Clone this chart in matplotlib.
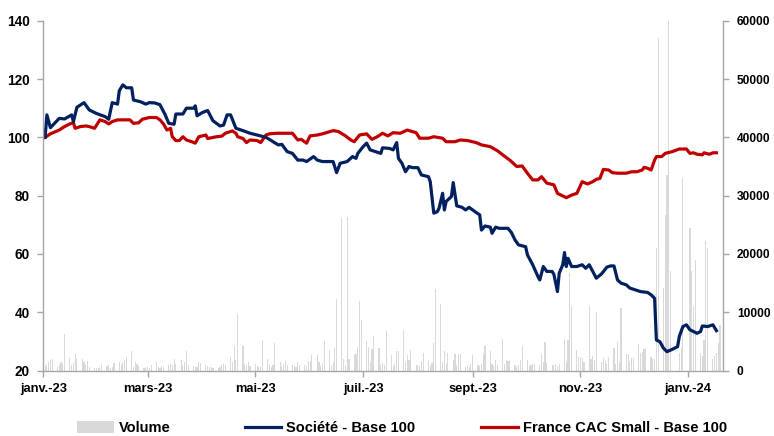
import matplotlib
matplotlib.use("Agg")
import matplotlib.pyplot as plt
import pandas as pd
from matplotlib.patches import Patch
from matplotlib.lines import Line2D

plt.rcParams['font.family'] = ['Liberation Sans', 'DejaVu Sans']
plt.rcParams['font.weight'] = 'bold'

# ---------------- data ----------------
societe_dates = [
    "2023-01-02", "2023-01-03", "2023-01-05", "2023-01-10", "2023-01-13", "2023-01-17", "2023-01-18", "2023-01-20",
    "2023-01-24", "2023-01-27", "2023-01-31", "2023-02-05", "2023-02-07", "2023-02-09", "2023-02-12", "2023-02-13",
    "2023-02-15", "2023-02-17", "2023-02-20", "2023-02-21", "2023-02-25", "2023-02-28", "2023-03-02", "2023-03-05",
    "2023-03-08", "2023-03-11", "2023-03-13", "2023-03-16", "2023-03-17", "2023-03-21", "2023-03-23", "2023-03-27",
    "2023-03-28", "2023-03-29", "2023-04-01", "2023-04-04", "2023-04-07", "2023-04-11", "2023-04-13", "2023-04-15",
    "2023-04-17", "2023-04-20", "2023-04-24", "2023-04-28", "2023-05-02", "2023-05-07", "2023-05-09", "2023-05-11",
    "2023-05-14", "2023-05-16", "2023-05-19", "2023-05-22", "2023-05-25", "2023-05-28", "2023-05-30", "2023-06-03",
    "2023-06-05", "2023-06-08", "2023-06-14", "2023-06-16", "2023-06-18", "2023-06-22", "2023-06-25", "2023-06-27",
    "2023-06-28", "2023-07-01", "2023-07-03", "2023-07-05", "2023-07-08", "2023-07-11", "2023-07-12", "2023-07-16",
    "2023-07-18", "2023-07-20", "2023-07-21", "2023-07-23", "2023-07-25", "2023-07-27", "2023-07-29", "2023-08-01",
    "2023-08-03", "2023-08-07", "2023-08-08", "2023-08-10", "2023-08-12", "2023-08-13", "2023-08-15", "2023-08-16",
    "2023-08-17", "2023-08-20", "2023-08-21", "2023-08-23", "2023-08-26", "2023-08-28", "2023-08-30", "2023-09-01",
    "2023-09-05", "2023-09-06", "2023-09-08", "2023-09-11", "2023-09-12", "2023-09-14", "2023-09-16", "2023-09-21",
    "2023-09-23", "2023-09-25", "2023-09-27", "2023-10-01", "2023-10-02", "2023-10-05", "2023-10-08", "2023-10-09",
    "2023-10-11", "2023-10-13", "2023-10-16", "2023-10-17", "2023-10-19", "2023-10-20", "2023-10-22", "2023-10-23",
    "2023-10-24", "2023-10-25", "2023-10-27", "2023-10-30", "2023-11-02", "2023-11-04", "2023-11-06", "2023-11-08",
    "2023-11-10", "2023-11-13", "2023-11-16", "2023-11-18", "2023-11-20", "2023-11-22", "2023-11-24", "2023-11-27",
    "2023-11-29", "2023-12-02", "2023-12-05", "2023-12-09", "2023-12-11", "2023-12-13", "2023-12-14", "2023-12-16",
    "2023-12-18", "2023-12-20", "2023-12-23", "2023-12-26", "2023-12-27", "2023-12-29", "2023-12-31", "2024-01-02",
    "2024-01-04", "2024-01-06", "2024-01-08", "2024-01-09", "2024-01-12", "2024-01-15", "2024-01-17",
]
societe_values = [
    100, 107.7, 103.3, 106.5, 106.3, 107.7, 105.4, 110.3,
    111.9, 109.4, 108.2, 107.1, 106.2, 111.9, 111.4, 116,
    118, 117, 117, 112.8, 112.2, 111.4, 111.9, 111.8,
    111.2, 107.7, 104.8, 104.5, 108, 108, 110, 110,
    110.8, 107.4, 108.5, 109.2, 105.7, 103.9, 104.2, 107.7,
    107.7, 103.1, 102.3, 101.4, 100.8, 100, 99.3, 98.5,
    97.4, 97.6, 95.1, 94.5, 92.2, 92.2, 91.7, 93.4,
    92.2, 91.7, 91.7, 87.9, 91.1, 91.7, 93.4, 92.8,
    94.5, 96.8, 98, 95.7, 95.1, 94.5, 96.4, 96.2,
    95.7, 98.2, 92.8, 91.1, 88.2, 90, 89.6, 89.6,
    87.1, 86.5, 84.8, 74, 74.5, 75.7, 80.8, 75.1,
    78, 79.7, 84.5, 76.5, 76, 75.1, 76, 75.1,
    73.4, 68.2, 69.6, 69.2, 67.1, 69.2, 68.8, 68.8,
    67.3, 64.8, 63.1, 62.5, 59.7, 56.3, 52.2, 51.1,
    55.7, 54, 54, 53, 47.1, 53.4, 56.3, 60.5,
    55.7, 58.5, 55.7, 55.7, 56.3, 55.1, 56.3, 54,
    51.7, 53.2, 55.5, 55.9, 55.9, 51.1, 50, 49.4,
    48.3, 47.7, 47.1, 46.8, 46, 44.8, 30.5, 29.9,
    27.7, 26.5, 27.3, 28.2, 31.7, 35.1, 35.7, 34,
    33.4, 32.8, 33.4, 35.3, 35.1, 35.7, 33.7,
]

cac_dates = [
    "2023-01-02", "2023-01-05", "2023-01-08", "2023-01-10", "2023-01-13", "2023-01-16", "2023-01-18", "2023-01-19",
    "2023-01-22", "2023-01-25", "2023-01-27", "2023-01-30", "2023-02-02", "2023-02-05", "2023-02-07", "2023-02-09",
    "2023-02-12", "2023-02-19", "2023-02-21", "2023-02-24", "2023-02-26", "2023-03-02", "2023-03-06", "2023-03-08",
    "2023-03-10", "2023-03-12", "2023-03-14", "2023-03-15", "2023-03-17", "2023-03-19", "2023-03-21", "2023-03-23",
    "2023-03-26", "2023-03-28", "2023-03-30", "2023-04-03", "2023-04-04", "2023-04-09", "2023-04-12", "2023-04-14",
    "2023-04-18", "2023-04-20", "2023-04-21", "2023-04-24", "2023-04-26", "2023-04-28", "2023-05-02", "2023-05-04",
    "2023-05-07", "2023-05-09", "2023-05-13", "2023-05-22", "2023-05-25", "2023-05-27", "2023-05-30", "2023-06-01",
    "2023-06-05", "2023-06-08", "2023-06-14", "2023-06-17", "2023-06-21", "2023-06-24", "2023-06-26", "2023-06-29",
    "2023-07-03", "2023-07-06", "2023-07-09", "2023-07-12", "2023-07-15", "2023-07-18", "2023-07-22", "2023-07-26",
    "2023-07-31", "2023-08-02", "2023-08-07", "2023-08-10", "2023-08-15", "2023-08-17", "2023-08-22", "2023-08-25",
    "2023-08-29", "2023-09-03", "2023-09-06", "2023-09-11", "2023-09-15", "2023-09-18", "2023-09-22", "2023-09-26",
    "2023-09-29", "2023-10-02", "2023-10-05", "2023-10-08", "2023-10-10", "2023-10-13", "2023-10-17", "2023-10-19",
    "2023-10-22", "2023-10-24", "2023-10-27", "2023-10-30", "2023-11-02", "2023-11-05", "2023-11-08", "2023-11-10",
    "2023-11-12", "2023-11-14", "2023-11-17", "2023-11-19", "2023-11-22", "2023-11-27", "2023-11-30", "2023-12-03",
    "2023-12-06", "2023-12-07", "2023-12-09", "2023-12-11", "2023-12-13", "2023-12-14", "2023-12-17", "2023-12-19",
    "2023-12-23", "2023-12-27", "2023-12-31", "2024-01-02", "2024-01-04", "2024-01-06", "2024-01-09", "2024-01-10",
    "2024-01-13", "2024-01-15", "2024-01-17",
]
cac_values = [
    100, 101.2, 102, 102.5, 103.7, 104.6, 105, 103.1,
    103.7, 103.9, 103.7, 103.1, 106, 105.4, 104.6, 105.4,
    106, 106, 104.8, 105, 106.2, 106.8, 106.8, 106,
    104.6, 102.5, 103.1, 100.2, 98.9, 98.9, 100.2, 99.1,
    98.5, 98, 100.2, 100.8, 99.6, 100.2, 100.4, 101.4,
    102.2, 101.4, 100.2, 99.6, 98.2, 99.1, 98.9, 98.2,
    100.8, 101.2, 101.4, 101.4, 99.1, 99.3, 98, 100.5,
    100.8, 101.2, 102.3, 102, 100.5, 99.1, 98.5, 100.8,
    101.2, 99.3, 100.2, 101.4, 100.5, 101.6, 101.4, 102.5,
    101.6, 99.7, 99.7, 100.2, 99.7, 98.5, 98.5, 99.1,
    98.9, 98.2, 97.4, 96.8, 95.4, 94, 92.2, 90,
    90.2, 87.7, 85.4, 85.4, 86.5, 84.3, 83.7, 80.8,
    79.9, 79.3, 80.2, 80.8, 84.8, 84, 84.8, 85.6,
    85.9, 89, 88.8, 87.9, 87.7, 87.7, 88.2, 88.2,
    88.8, 89.7, 89.4, 88.8, 92.2, 93.4, 93.4, 94.5,
    95.1, 96, 96, 94.5, 94.7, 94.2, 94, 94.7,
    94.2, 94.7, 94.7,
]

# daily volume, one value per business day, month by month
vol_2023_01 = [800, 1200, 1500, 1900, 2000, 600, 900, 1500, 1200, 6300, 2200, 1000, 1300, 2800, 2000, 2000, 1400, 900, 1700, 700, 500, 400]
vol_2023_02 = [400, 600, 900, 800, 1000, 500, 700, 1300, 1400, 900, 1500, 1800, 2400, 3400, 600, 1500, 1200, 800, 500, 700]
vol_2023_03 = [600, 500, 900, 1500, 700, 500, 800, 600, 1000, 1100, 900, 2000, 1200, 1900, 1000, 1400, 3400, 900, 800, 700, 600, 1400, 1300]
vol_2023_04 = [1000, 800, 600, 700, 500, 400, 600, 900, 1200, 1000, 2400, 1500, 4200, 1800, 9700, 4200, 1200, 1000, 1400, 800]
vol_2023_05 = [1100, 800, 600, 700, 5300, 2000, 900, 700, 1000, 4700, 1400, 800, 1200, 1700, 900, 900, 800, 700, 1400, 1000, 1000, 800, 1700]
vol_2023_06 = [1700, 2700, 2700, 1500, 800, 1300, 5100, 3600, 1000, 1500, 3900, 12300, 26100, 2000, 1000, 26400, 2000, 2700, 2800, 4100, 12000, 8600]
vol_2023_07 = [5000, 4000, 1500, 3700, 5900, 3900, 1000, 1300, 1000, 6800, 2600, 800, 1200, 3300, 3400, 7000, 1500, 2700, 1900, 3500, 1000]
vol_2023_08 = [1000, 800, 1600, 3100, 1900, 800, 1300, 4700, 14000, 11400, 1500, 3300, 1200, 3100, 1900, 2800, 1000, 2800, 2800, 700, 900, 600, 1100]
vol_2023_09 = [2600, 1000, 800, 1200, 2800, 4300, 3300, 1200, 800, 1900, 1000, 5500, 1200, 1800, 1600, 1800, 900, 700, 1000, 1900, 4300]
vol_2023_10 = [1900, 800, 1000, 1200, 1200, 900, 2900, 1500, 4900, 1300, 1000, 900, 1100, 800, 1200, 5500, 1500, 5200, 16700, 11000, 3500, 2400]
vol_2023_11 = [2400, 2200, 1500, 11000, 2000, 2500, 1800, 10100, 1500, 2200, 1600, 1200, 2400, 3900, 1200, 4900, 1500, 10700, 2900, 2900, 1500, 2200]
vol_2023_12 = [2200, 4600, 3000, 3200, 3700, 3900, 2400, 2000, 2000, 21000, 57000, 14200, 26700, 33600, 60000, 17000, 0, 0, 3000, 4000, 33000]
vol_2024_01 = [0, 24400, 17000, 11000, 19000, 3000, 2500, 5300, 22300, 21000, 2000, 2500, 3000, 4700, 7900]
volume_start, volume_end = "2023-01-02", "2024-01-19"

tick_dates = ["2023-01-01", "2023-03-01", "2023-05-01", "2023-07-01", "2023-09-01", "2023-11-01", "2024-01-01"]
tick_labels = ["janv.-23", "mars-23", "mai-23", "juil.-23", "sept.-23", "nov.-23", "janv.-24"]

series_names = ["Volume", "Société - Base 100", "France CAC Small - Base 100"]

# ---------------- figure ----------------
volume = (vol_2023_01 + vol_2023_02 + vol_2023_03 + vol_2023_04 + vol_2023_05 + vol_2023_06 +
          vol_2023_07 + vol_2023_08 + vol_2023_09 + vol_2023_10 + vol_2023_11 + vol_2023_12 + vol_2024_01)
vol_dates = pd.bdate_range(volume_start, volume_end)
n = min(len(vol_dates), len(volume))

BLUE = "#002060"
RED = "#C00000"
GREY = "#D9D9D9"
AXIS = "#A6A6A6"

fig = plt.figure(figsize=(7.74, 4.36), dpi=100)
ax = fig.add_axes([0.056, 0.150, 0.878, 0.8025])
axv = ax.twinx()
ax.set_zorder(axv.get_zorder() + 1)
ax.patch.set_visible(False)

axv.bar(vol_dates[:n], volume[:n], width=0.65, color=GREY, linewidth=0)
ax.plot(pd.to_datetime(cac_dates), cac_values, color=RED, lw=2.3, solid_joinstyle='round')
ax.plot(pd.to_datetime(societe_dates), societe_values, color=BLUE, lw=2.3, solid_joinstyle='round')

xmin = pd.Timestamp("2023-01-01")
xmax = pd.Timestamp("2024-01-20") + pd.Timedelta(hours=16)
ax.set_xlim(xmin, xmax)
ax.set_ylim(20, 140)
ax.set_yticks(range(20, 141, 20))
axv.set_ylim(0, 60000)
axv.set_yticks(range(0, 60001, 10000))

ax.set_xticks(pd.to_datetime(tick_dates))
ax.set_xticklabels(tick_labels)

for a in (ax, axv):
    a.spines['top'].set_visible(False)
    for s in ('left', 'right', 'bottom'):
        a.spines[s].set_color(AXIS)
        a.spines[s].set_linewidth(1.0)
ax.spines['right'].set_visible(False)
axv.spines['left'].set_visible(False)
axv.spines['bottom'].set_visible(False)

ax.tick_params(axis='x', colors=AXIS, labelcolor='black', labelsize=9.3, length=4, width=1, direction='out', pad=5)
ax.tick_params(axis='y', colors=AXIS, labelcolor='black', labelsize=9.8, length=4, width=1, direction='out', pad=6)
axv.tick_params(axis='y', colors=AXIS, labelcolor='black', labelsize=8.6, length=4, width=1, direction='out', pad=6)
for lab in ax.get_xticklabels() + ax.get_yticklabels() + axv.get_yticklabels():
    lab.set_fontweight('bold')

# legend: three entries placed like the reference
handles = [
    Patch(facecolor=GREY, edgecolor='none'),
    Line2D([], [], color=BLUE, lw=2.3),
    Line2D([], [], color=RED, lw=2.3),
]
anchors = [0.100, 0.316, 0.622]
for h, name, xa in zip(handles, series_names, anchors):
    fig.legend([h], [name], loc='center left', bbox_to_anchor=(xa, 0.018),
               frameon=False, borderpad=0, borderaxespad=0, handlelength=2.5,
               handleheight=0.9, handletextpad=0.35,
               prop={'weight': 'bold', 'size': 10.5})

fig.savefig("out.png", dpi=100)
